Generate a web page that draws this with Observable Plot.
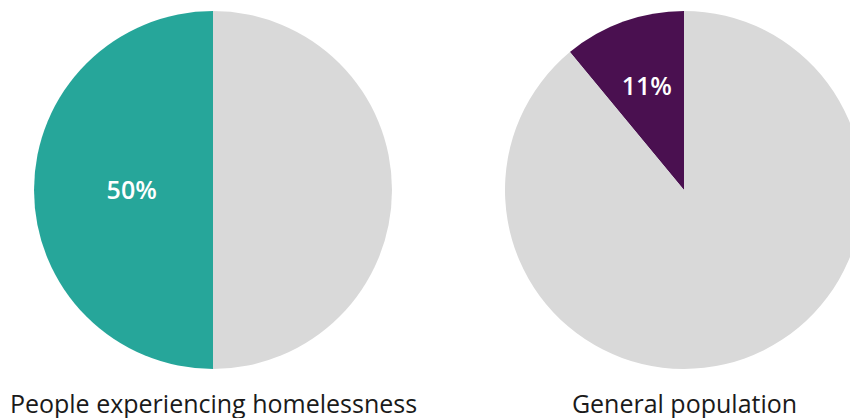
<!DOCTYPE html>
<html><head><meta charset="utf-8">
<script src="https://cdn.jsdelivr.net/npm/d3@7"></script>
<script src="https://cdn.jsdelivr.net/npm/@observablehq/plot@0.6"></script>
<style>html,body{margin:0;padding:0;background:#fff;overflow:hidden}</style>
</head><body><div id="chart"></div>
<script>
// ---- data ----
const groups = ["People experiencing homelessness", "General population"];
const shares = [50, 11];               // percent
const shareColors = ["#26a69a", "#4a1050"];
const restKey = "Rest";
const restColor = "#d9d9d9";

// slices built from the data (angles in radians, 0 = 12 o'clock, clockwise)
const slices = groups.flatMap((g, i) => {
  const a = shares[i] / 100 * 2 * Math.PI;
  return [
    {group: g, key: g, a0: -a, a1: 0, label: shares[i] + "%"},
    {group: g, key: restKey, a0: 0, a1: 2 * Math.PI - a, label: ""}
  ];
});

class Pie extends Plot.Mark {
  constructor(data, {x, a0, a1, text, ...options} = {}) {
    super(data, {
      x: {value: x, scale: "x"},
      a0: {value: a0},
      a1: {value: a1},
      text: {value: text}
    }, options, {ariaLabel: "pie", fill: "currentColor"});
  }
  render(index, scales, channels, dimensions) {
    const {x: X, a0: A0, a1: A1, text: T, fill: F} = channels;
    const {marginTop, marginBottom, height} = dimensions;
    const R = (height - marginTop - marginBottom) / 2;
    const cy = marginTop + R;
    const arc = d3.arc().innerRadius(0).outerRadius(R);
    const g = d3.create("svg:g").attr("aria-label", "pie");
    for (const i of index) {
      g.append("path")
        .attr("transform", `translate(${X[i]},${cy})`)
        .attr("fill", F ? F[i] : this.fill)
        .attr("d", arc({startAngle: A0[i], endAngle: A1[i]}));
    }
    for (const i of index) {
      if (!T[i]) continue;
      const th = A1[i] - A0[i], m = (A0[i] + A1[i]) / 2;
      // label near the sector's area centroid
      const dSector = 4 * R * Math.sin(th / 2) / (3 * th);
      const d = dSector * (th > Math.PI / 2 ? 1.07 : 0.94);
      g.append("text")
        .attr("x", X[i] + d * Math.sin(m))
        .attr("y", cy - d * Math.cos(m))
        .attr("dy", "0.35em")
        .attr("text-anchor", "middle")
        .attr("fill", "white")
        .attr("font-weight", 600)
        .attr("font-size", 25)
        .text(T[i]);
    }
    return g.node();
  }
}

const chart = Plot.plot({
  width: 850,
  height: 418,
  marginTop: 11,
  marginBottom: 49,
  marginLeft: 213,
  marginRight: 166,
  x: {type: "point", domain: groups, padding: 0, tickSize: 0, tickPadding: 26, label: null},
  color: {domain: [...groups, restKey], range: [...shareColors, restColor]},
  style: {fontFamily: "'Open Sans', sans-serif", fontSize: "25px", color: "#1a1a1a", background: "white"},
  marks: [
    new Pie(slices, {x: "group", a0: "a0", a1: "a1", text: "label", fill: "key"})
  ]
});
document.getElementById("chart").append(chart);
</script>
</body></html>
